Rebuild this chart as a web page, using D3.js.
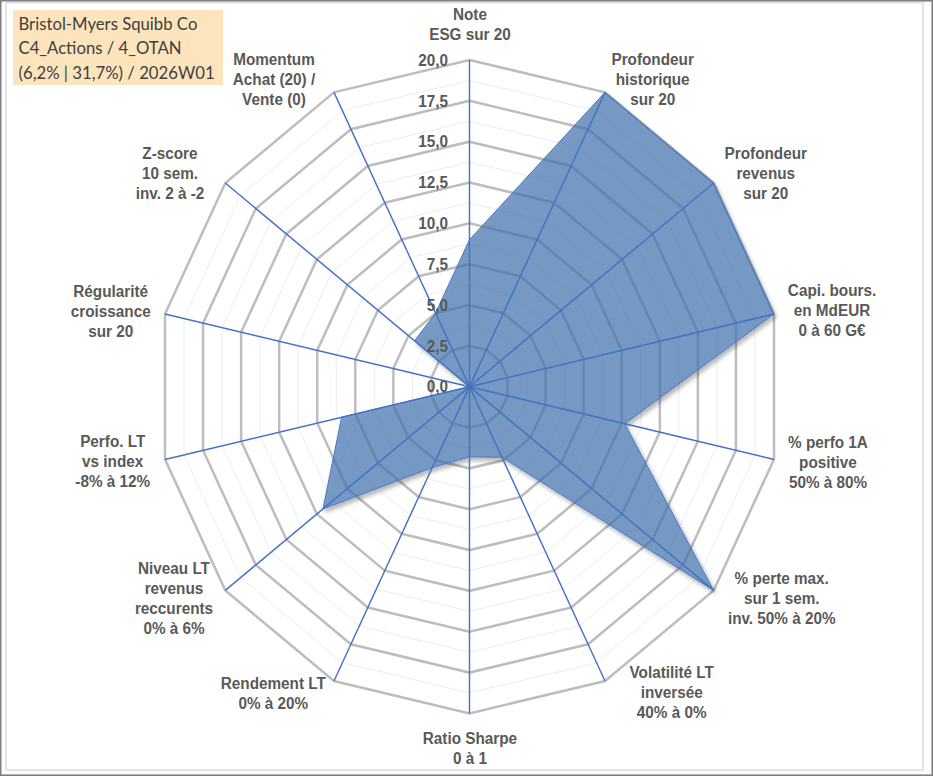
<!DOCTYPE html>
<html>
<head>
<meta charset="utf-8">
<script src="https://cdn.jsdelivr.net/npm/d3@7"></script>
<title>Radar Bristol-Myers Squibb</title>
<style>
    html, body { margin: 0; padding: 0; background: #fff; }
    svg { display: block; }
    .axis-label {
        font-family: "Liberation Sans", Arial, sans-serif;
        font-weight: bold;
        font-size: 16px;
        fill: #595959;
    }
    .tick-label {
        font-family: "Liberation Sans", Arial, sans-serif;
        font-weight: bold;
        font-size: 16px;
        fill: #595959;
    }
    .title-text {
        font-family: Lato, "Open Sans", sans-serif;
        font-size: 17.5px;
        fill: #404040;
    }
</style>
</head>
<body>
<div id="chart"></div>
<script>
    // Axes, clockwise from the top
    const categories = [
        "Note\nESG sur 20",
        "Profondeur\nhistorique\nsur 20",
        "Profondeur\nrevenus\nsur 20",
        "Capi. bours.\nen MdEUR\n0 à 60 G€",
        "% perfo 1A\npositive\n50% à 80%",
        "% perte max.\nsur 1 sem.\ninv. 50% à 20%",
        "Volatilité LT\ninversée\n40% à 0%",
        "Ratio Sharpe\n0 à 1",
        "Rendement LT\n0% à 20%",
        "Niveau LT\nrevenus\nreccurents\n0% à 6%",
        "Perfo. LT\nvs index\n-8% à 12%",
        "Régularité\ncroissance\nsur 20",
        "Z-score\n10 sem.\ninv. 2 à -2",
        "Momentum\nAchat (20) /\nVente (0)"
    ];
    const values = [9.0, 20, 20, 20, 10.2, 20, 4.8, 4.3, 5.5, 12.0, 8.4, 0, 4.5, 5.0];
    const tickValues = [0, 2.5, 5, 7.5, 10, 12.5, 15, 17.5, 20];
    const tickLabels = ["0,0", "2,5", "5,0", "7,5", "10,0", "12,5", "15,0", "17,5", "20,0"];
    const minorLevels = [1.25, 3.75, 6.25, 8.75, 11.25, 13.75, 16.25, 18.75];
    const titleLines = ["Bristol-Myers Squibb Co", "C4_Actions / 4_OTAN", "(6,2% | 31,7%) / 2026W01"];

    // where each axis title sits (centre x, first line centre y)
    const labelPos = [
        [491.6, 14], [682.7, 59], [801, 153], [870.3, 290], [866.1, 442],
        [817.7, 578], [702.6, 672], [491.6, 738], [285.9, 683], [182, 568],
        [117.9, 441], [115.8, 291], [177.8, 153], [286.6, 59]
    ];

    var width = 933, height = 776;
    var squeeze = 0.956; // the reference is a bit narrower than it is tall
    var vw = width / squeeze;
    var cx = 491.1, cy = 386.7, R = 326.7;

    var svg = d3.select('#chart').append('svg')
        .attr('width', width)
        .attr('height', height)
        .attr('viewBox', '0 0 ' + vw + ' ' + height)
        .attr('preserveAspectRatio', 'none');

    // shadow kept outside the shape so it does not darken the see-through fill
    var filter = svg.append('defs').append('filter')
        .attr('id', 'shadow')
        .attr('x', '-10%').attr('y', '-10%').attr('width', '120%').attr('height', '120%');
    filter.append('feGaussianBlur').attr('in', 'SourceAlpha').attr('stdDeviation', 2).attr('result', 'blur');
    filter.append('feOffset').attr('in', 'blur').attr('dx', 2).attr('dy', 3).attr('result', 'off');
    filter.append('feComponentTransfer').attr('in', 'off').attr('result', 'soft')
        .append('feFuncA').attr('type', 'linear').attr('slope', 0.4);
    filter.append('feComposite').attr('in', 'soft').attr('in2', 'SourceAlpha')
        .attr('operator', 'out').attr('result', 'outer');
    var merge = filter.append('feMerge');
    merge.append('feMergeNode').attr('in', 'outer');
    merge.append('feMergeNode').attr('in', 'SourceGraphic');

    // frames
    svg.append('rect')
        .attr('x', 0.8).attr('y', 0.8)
        .attr('width', vw - 1.6).attr('height', height - 1.6)
        .attr('fill', 'none').attr('stroke', '#7f7f7f').attr('stroke-width', 1.6);
    svg.append('rect')
        .attr('x', 6 / squeeze).attr('y', 2.5)
        .attr('width', (923 - 6) / squeeze).attr('height', 770 - 2.5)
        .attr('fill', 'none').attr('stroke', '#d9d9d9').attr('stroke-width', 1.5);

    var r = d3.scaleLinear().domain([0, 20]).range([0, R]);
    var angle = d3.scaleLinear().domain([0, categories.length]).range([0, 2 * Math.PI]);

    var g = svg.append('g').attr('transform', 'translate(' + cx + ',' + cy + ')');

    var ring = d3.lineRadial()
        .angle(function(d, i) { return angle(i); })
        .radius(function(d) { return r(d); })
        .curve(d3.curveLinearClosed);

    // minor grid
    g.selectAll('.minor')
        .data(minorLevels)
        .enter().append('path')
        .attr('class', 'minor')
        .attr('d', function(l) { return ring(categories.map(function() { return l; })); })
        .attr('fill', 'none')
        .attr('stroke', '#ececec')
        .attr('stroke-width', 1);

    // major grid
    g.selectAll('.major')
        .data(tickValues.filter(function(t) { return t > 0; }))
        .enter().append('path')
        .attr('class', 'major')
        .attr('d', function(l) { return ring(categories.map(function() { return l; })); })
        .attr('fill', 'none')
        .attr('stroke', '#bdbdbd')
        .attr('stroke-width', 2.6);

    // series
    g.append('path')
        .datum(values)
        .attr('d', ring)
        .attr('fill', 'rgb(65,116,175)')
        .attr('fill-opacity', 0.7)
        .attr('stroke', '#4472c4')
        .attr('stroke-width', 1)
        .attr('filter', 'url(#shadow)');

    // spokes
    g.selectAll('.spoke')
        .data(categories)
        .enter().append('line')
        .attr('class', 'spoke')
        .attr('x1', 0).attr('y1', 0)
        .attr('x2', function(d, i) { return r(20) * Math.sin(angle(i)); })
        .attr('y2', function(d, i) { return -r(20) * Math.cos(angle(i)); })
        .attr('stroke', '#4472c4')
        .attr('stroke-width', 1.5);

    // value ticks on the top axis
    g.selectAll('.tick-label')
        .data(tickValues)
        .enter().append('text')
        .attr('class', 'tick-label')
        .attr('x', -22.5)
        .attr('y', function(d) { return -r(d) + 5.7; })
        .attr('text-anchor', 'end')
        .text(function(d, i) { return tickLabels[i]; });

    // axis titles
    var labels = svg.selectAll('.axis-label')
        .data(categories)
        .enter().append('text')
        .attr('class', 'axis-label')
        .attr('text-anchor', 'middle');
    labels.each(function(d, i) {
        var t = d3.select(this);
        d.split('\n').forEach(function(line, k) {
            t.append('tspan')
                .attr('x', labelPos[i][0])
                .attr('y', labelPos[i][1] + 5.7 + k * 20)
                .text(line);
        });
    });

    // title box
    svg.append('rect')
        .attr('x', 13 / squeeze).attr('y', 10)
        .attr('width', 210 / squeeze).attr('height', 75)
        .attr('fill', '#fce4bd');
    svg.selectAll('.title-text')
        .data(titleLines)
        .enter().append('text')
        .attr('class', 'title-text')
        .attr('x', 18.5 / squeeze)
        .attr('y', function(d, i) { return 30 + i * 24.5; })
        .text(function(d) { return d; });
</script>
</body>
</html>
